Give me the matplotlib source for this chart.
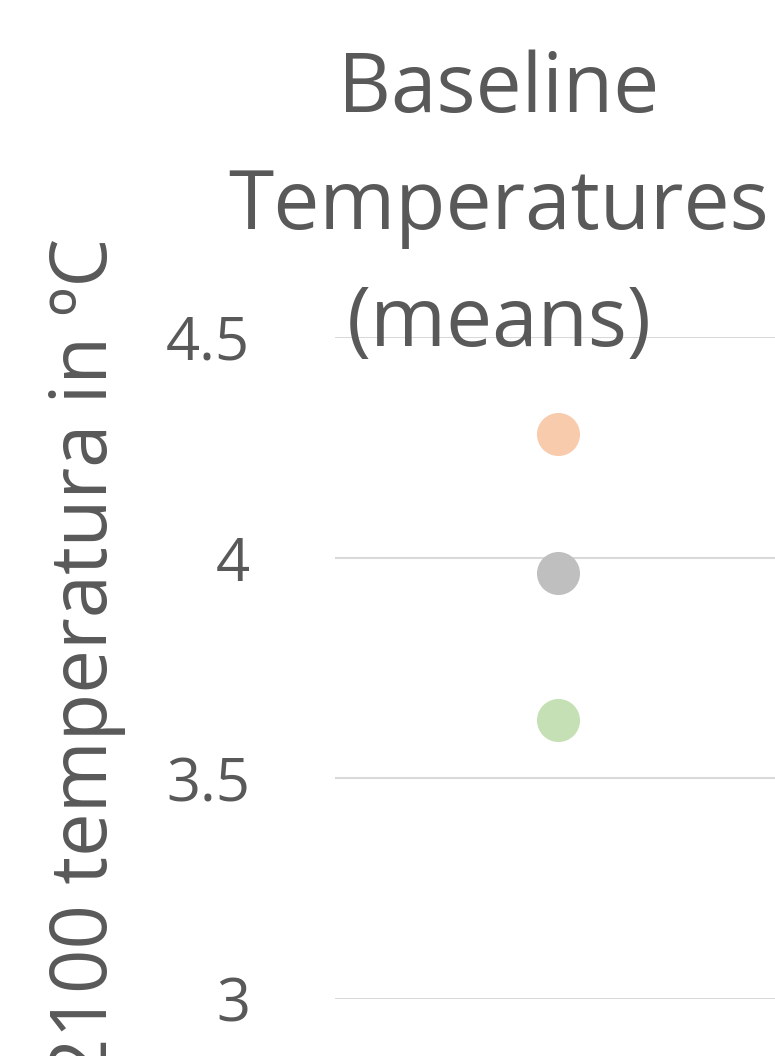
import matplotlib.pyplot as plt

# data
categories = ["Baseline"]
series_names = ["high", "mid", "low"]
series_values = [[4.28], [3.965], [3.632]]
series_colors = ["#F8CBAD", "#BFBFBF", "#C5E0B4"]
y_ticks = [3, 3.5, 4, 4.5]
y_tick_labels = ["3", "3.5", "4", "4.5"]
title_lines = ["Baseline", "Temperatures", "(means)"]

plt.rcParams["font.family"] = ["Open Sans", "DejaVu Sans"]
txt = "#595959"

fig = plt.figure(figsize=(7.75, 10.56), dpi=100)
ax = fig.add_axes([335 / 775, 57 / 1056, 440 / 775, 662 / 1056])

for vals, col in zip(series_values, series_colors):
    ax.plot(range(len(categories)), vals, "o", ms=31, color=col, mec="none", zorder=3)

ax.set_xlim(-0.507, 0.493)
ax.set_ylim(3, 4.5)
ax.set_yticks(y_ticks)
ax.set_yticklabels(y_tick_labels)
ax.set_xticks([])
ax.grid(axis="y", color="#D9D9D9", lw=1.5)
ax.tick_params(axis="y", length=0, pad=61, labelsize=43, labelcolor=txt)
for s in ax.spines.values():
    s.set_visible(False)

# title, one line at a time (baselines)
for line, base in zip(title_lines, [112, 229, 346]):
    fig.text(499 / 775, 1 - base / 1056, line, ha="center", va="baseline",
             fontsize=59, color=txt)

fig.text(87 / 775, 1 - 238 / 1056, "2100 temperatura in ºC", rotation=90,
         ha="center", va="top", fontsize=56, color=txt)

fig.savefig("out.png", dpi=100)
